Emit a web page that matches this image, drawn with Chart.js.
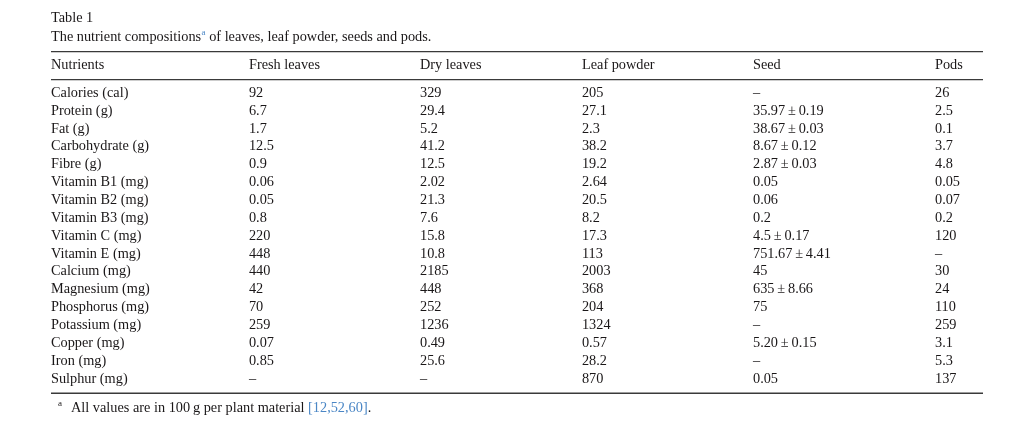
<!DOCTYPE html>
<html><head><meta charset="utf-8">
<script src="https://cdn.jsdelivr.net/npm/chart.js@4/dist/chart.umd.min.js"></script>
<style>html,body{margin:0;padding:0;background:#fff;overflow:hidden}canvas{display:block}</style>
</head><body>
<canvas id="c" width="1024" height="425"></canvas>
<script>
const tableTitle = 'Table 1';
const captionParts = ['The nutrient compositions', 'a', ' of leaves, leaf powder, seeds and pods.'];
const columnHeaders = ['Nutrients', 'Fresh leaves', 'Dry leaves', 'Leaf powder', 'Seed', 'Pods'];
const nutrients = ['Calories (cal)', 'Protein (g)', 'Fat (g)', 'Carbohydrate (g)', 'Fibre (g)', 'Vitamin B1 (mg)', 'Vitamin B2 (mg)', 'Vitamin B3 (mg)', 'Vitamin C (mg)', 'Vitamin E (mg)', 'Calcium (mg)', 'Magnesium (mg)', 'Phosphorus (mg)', 'Potassium (mg)', 'Copper (mg)', 'Iron (mg)', 'Sulphur (mg)'];
const freshLeaves = ['92', '6.7', '1.7', '12.5', '0.9', '0.06', '0.05', '0.8', '220', '448', '440', '42', '70', '259', '0.07', '0.85', '\u2013'];
const dryLeaves = ['329', '29.4', '5.2', '41.2', '12.5', '2.02', '21.3', '7.6', '15.8', '10.8', '2185', '448', '252', '1236', '0.49', '25.6', '\u2013'];
const leafPowder = ['205', '27.1', '2.3', '38.2', '19.2', '2.64', '20.5', '8.2', '17.3', '113', '2003', '368', '204', '1324', '0.57', '28.2', '870'];
const seed = ['\u2013', '35.97\u2009\u00b1\u20090.19', '38.67\u2009\u00b1\u20090.03', '8.67\u2009\u00b1\u20090.12', '2.87\u2009\u00b1\u20090.03', '0.05', '0.06', '0.2', '4.5\u2009\u00b1\u20090.17', '751.67\u2009\u00b1\u20094.41', '45', '635\u2009\u00b1\u20098.66', '75', '\u2013', '5.20\u2009\u00b1\u20090.15', '\u2013', '0.05'];
const pods = ['26', '2.5', '0.1', '3.7', '4.8', '0.05', '0.07', '0.2', '120', '\u2013', '30', '24', '110', '259', '3.1', '5.3', '137'];
const footnoteParts = ['a', 'All values are in 100\u2009g per plant material ', '[12,52,60]', '.'];

// layout (fractions of table width where each column starts)
const COLUMN_ANCHOR = [0, 0.2124, 0.3959, 0.5697, 0.7532, 0.9485];
const FONT = '14.3px "Liberation Serif", "Times New Roman", serif';
const SUP_FONT = '9px "Liberation Serif", "Times New Roman", serif';
const TEXT = '#1a1718';
const LINK = '#4a86c5';
const RULE = '#3a3a3a';

const columns = [nutrients, freshLeaves, dryLeaves, leafPowder, seed, pods];

const datasets = columns.map((col, c) => ({
  label: columnHeaders[c],
  cellText: col,
  data: col.map((v, i) => ({ x: COLUMN_ANCHOR[c], y: nutrients[i] })),
  pointRadius: 0,
  pointHoverRadius: 0,
  showLine: false
}));

const tablePlugin = {
  id: 'tableText',
  afterDatasetsDraw(chart) {
    const ctx = chart.ctx;
    const ca = chart.chartArea;
    const ys = chart.scales.y;
    const firstRow = ys.getPixelForValue(0);
    const lastRow = ys.getPixelForValue(nutrients.length - 1);
    ctx.save();
    ctx.fillStyle = TEXT;
    ctx.textBaseline = 'middle';
    ctx.textAlign = 'left';
    ctx.font = FONT;

    // cells
    chart.data.datasets.forEach((ds, di) => {
      const meta = chart.getDatasetMeta(di);
      meta.data.forEach((el, i) => {
        ctx.fillText(ds.cellText[i], el.x, el.y);
      });
      // header
      ctx.fillText(columnHeaders[di], meta.data[0].x, firstRow - 27.5);
    });

    // title and caption
    ctx.fillText(tableTitle, ca.left, firstRow - 75);
    let x = ca.left;
    const capY = firstRow - 56;
    ctx.fillText(captionParts[0], x, capY);
    x += ctx.measureText(captionParts[0]).width + 0.5;
    ctx.font = SUP_FONT; ctx.fillStyle = LINK;
    ctx.fillText(captionParts[1], x, capY - 4.5);
    x += ctx.measureText(captionParts[1]).width;
    ctx.font = FONT; ctx.fillStyle = TEXT;
    ctx.fillText(captionParts[2], x, capY);

    // rules
    ctx.strokeStyle = RULE;
    ctx.lineWidth = 1.3;
    [firstRow - 41.5, firstRow - 13.5, lastRow + 14.5].forEach(yy => {
      ctx.beginPath();
      ctx.moveTo(ca.left, yy);
      ctx.lineTo(ca.right, yy);
      ctx.stroke();
    });

    // footnote
    const fy = lastRow + 29.5;
    let fx = ca.left + 7;
    ctx.font = SUP_FONT; ctx.fillStyle = TEXT;
    ctx.fillText(footnoteParts[0], fx, fy - 4.5);
    fx += ctx.measureText(footnoteParts[0]).width + 9;
    ctx.font = FONT;
    ctx.fillText(footnoteParts[1], fx, fy);
    fx += ctx.measureText(footnoteParts[1]).width;
    ctx.fillStyle = LINK;
    ctx.fillText(footnoteParts[2], fx, fy);
    fx += ctx.measureText(footnoteParts[2]).width;
    ctx.fillStyle = TEXT;
    ctx.fillText(footnoteParts[3], fx, fy);
    ctx.restore();
  }
};

new Chart(document.getElementById('c'), {
  type: 'scatter',
  data: { datasets },
  options: {
    responsive: false,
    animation: false,
    devicePixelRatio: 1,
    layout: { padding: { left: 51, right: 41, top: 84.1, bottom: 37.3 } },
    plugins: { legend: { display: false }, tooltip: { enabled: false }, title: { display: false } },
    events: [],
    scales: {
      x: { type: 'linear', min: 0, max: 1, display: false },
      y: { type: 'category', labels: nutrients, offset: true, display: false, grid: { display: false } }
    }
  },
  plugins: [tablePlugin]
});
</script>
</body></html>
